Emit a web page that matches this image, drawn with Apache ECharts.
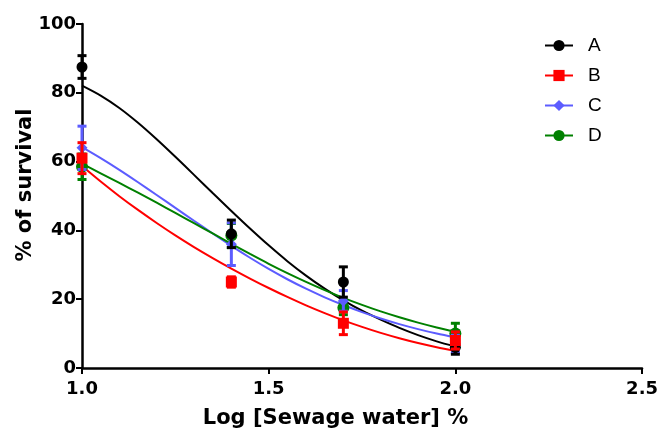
<!DOCTYPE html>
<html>
<head>
<meta charset="utf-8">
<script src="https://cdn.jsdelivr.net/npm/echarts@6/dist/echarts.min.js"></script>
<style>html,body{margin:0;padding:0;background:#fff}#c{width:661px;height:434px}</style>
</head>
<body>
<div id="c"></div>
<script>
// measured points
const doseX = [1.0, 1.4, 1.7, 2.0];
const valuesA = [87.5, 39, 25, 6];
const errorsA = [3.3, 4, 4.4, 2];
const valuesB = [61, 25, 13, 8];
const errorsB = [4.5, 1.5, 3.3, 2.5];
const valuesC = [64, 36, 19.5, 7];
const errorsC = [6.3, 6.2, 3, 2.5];
const valuesD = [58.5, 38.5, 17.5, 10];
const errorsD = [3.7, 3.5, 2, 3];
// fitted curves
const fitX = [1.0, 1.05, 1.1, 1.15, 1.2, 1.25, 1.3, 1.35, 1.4, 1.45, 1.5, 1.55, 1.6, 1.65, 1.7, 1.75, 1.8, 1.85, 1.9, 1.95, 2.0];
const fitA = [82.1, 79.2, 75.6, 71.3, 66.5, 61.4, 56.15, 50.85, 45.65, 40.55, 35.65, 31.05, 26.85, 23.05, 19.65, 16.65, 14.05, 11.65, 9.55, 7.75, 6.25];
const fitB = [58.7, 54.2, 49.95, 45.95, 42.15, 38.55, 35.15, 31.95, 28.9, 26.0, 23.25, 20.65, 18.2, 15.95, 13.85, 11.95, 10.2, 8.65, 7.25, 6.05, 5.0];
const fitC = [64.2, 61.0, 57.6, 54.0, 50.3, 46.55, 42.8, 39.1, 35.5, 32.05, 28.8, 25.8, 23.05, 20.55, 18.3, 16.25, 14.4, 12.75, 11.3, 10.0, 8.85];
const fitD = [59.4, 56.6, 53.8, 50.95, 48.05, 45.1, 42.1, 39.1, 36.1, 33.15, 30.3, 27.6, 25.05, 22.65, 20.4, 18.35, 16.45, 14.75, 13.2, 11.8, 10.55];
const seriesNames = ['A', 'B', 'C', 'D'];
const xTicks = [1.0, 1.5, 2.0, 2.5];
const yTicks = [0, 20, 40, 60, 80, 100];

const groups = {
  A: {vals: valuesA, errs: errorsA, fit: fitA, color: '#000000', symbol: 'circle', size: 11},
  B: {vals: valuesB, errs: errorsB, fit: fitB, color: '#ff0000', symbol: 'rect', size: 11},
  C: {vals: valuesC, errs: errorsC, fit: fitC, color: '#5c5cff', symbol: 'diamond', size: 11},
  D: {vals: valuesD, errs: errorsD, fit: fitD, color: '#008000', symbol: 'circle', size: 12}
};
const boldFont = 'DejaVu Sans, Liberation Sans, sans-serif';
const legendFont = 'Liberation Sans, Arial, sans-serif';

const series = [];
seriesNames.forEach(n => {
  const g = groups[n];
  series.push({
    name: n, type: 'line', smooth: 0.3, symbol: g.symbol, showSymbol: false,
    data: fitX.map((x, i) => [x, g.fit[i]]),
    lineStyle: {color: g.color, width: 2}, itemStyle: {color: g.color},
    z: 2, silent: true
  });
});
const order = ['D', 'C', 'A', 'B'];
order.forEach((n, k) => {
  const g = groups[n];
  series.push({
    name: n + '_err', type: 'custom', z: 3 + k, clip: false,
    data: doseX.map((x, i) => [x, g.vals[i] - g.errs[i], g.vals[i] + g.errs[i]]),
    renderItem: function (params, api) {
      const x = api.value(0);
      const p1 = api.coord([x, api.value(2)]);
      const p2 = api.coord([x, api.value(1)]);
      const w = 4.5;
      const st = {stroke: g.color, lineWidth: 3};
      return {type: 'group', children: [
        {type: 'line', shape: {x1: p1[0], y1: p1[1], x2: p2[0], y2: p2[1]}, style: st},
        {type: 'line', shape: {x1: p1[0] - w, y1: p1[1], x2: p1[0] + w, y2: p1[1]}, style: st},
        {type: 'line', shape: {x1: p2[0] - w, y1: p2[1], x2: p2[0] + w, y2: p2[1]}, style: st}
      ]};
    }
  });
  series.push({
    name: n + '_pts', type: 'scatter', z: 3 + k, clip: false,
    symbol: g.symbol, symbolSize: g.size,
    data: doseX.map((x, i) => [x, g.vals[i]]),
    itemStyle: {color: g.color, opacity: 1}
  });
});

const chart = echarts.init(document.getElementById('c'), null, {renderer: 'canvas'});
chart.setOption({
  animation: false,
  backgroundColor: '#ffffff',
  grid: {left: 82, right: 15, top: 24, bottom: 63, containLabel: false},
  legend: {
    data: seriesNames, orient: 'vertical', left: 539, top: 31, itemGap: 11,
    itemWidth: 28, itemHeight: 14,
    textStyle: {fontFamily: legendFont, fontSize: 19, color: '#000', padding: [0, 0, 0, 10]}
  },
  xAxis: {
    type: 'value', min: xTicks[0], max: xTicks[xTicks.length - 1], interval: 0.5,
    name: 'Log [Sewage water] %', nameLocation: 'middle', nameGap: 40,
    nameTextStyle: {fontFamily: boldFont, fontSize: 21, fontWeight: 'bold', color: '#000', padding: [0, 53, 0, 0]},
    axisLine: {show: true, onZero: false, lineStyle: {color: '#000', width: 2.5}},
    axisTick: {show: true, length: 6, lineStyle: {color: '#000', width: 2}},
    axisLabel: {fontFamily: boldFont, fontSize: 18, fontWeight: 'bold', color: '#000', margin: 12,
      formatter: v => v.toFixed(1)},
    splitLine: {show: false}
  },
  yAxis: {
    type: 'value', min: yTicks[0], max: yTicks[yTicks.length - 1], interval: 20,
    name: '% of survival', nameLocation: 'middle', nameGap: 46, nameMoveOverlap: false,
    nameTextStyle: {fontFamily: boldFont, fontSize: 21, fontWeight: 'bold', color: '#000', padding: [0, 0, 0, 22]},
    axisLine: {show: true, lineStyle: {color: '#000', width: 2.5}},
    axisTick: {show: true, length: 6, lineStyle: {color: '#000', width: 2}},
    axisLabel: {fontFamily: boldFont, fontSize: 18, fontWeight: 'bold', color: '#000', margin: 6},
    splitLine: {show: false}
  },
  series: series
});
</script>
</body>
</html>
